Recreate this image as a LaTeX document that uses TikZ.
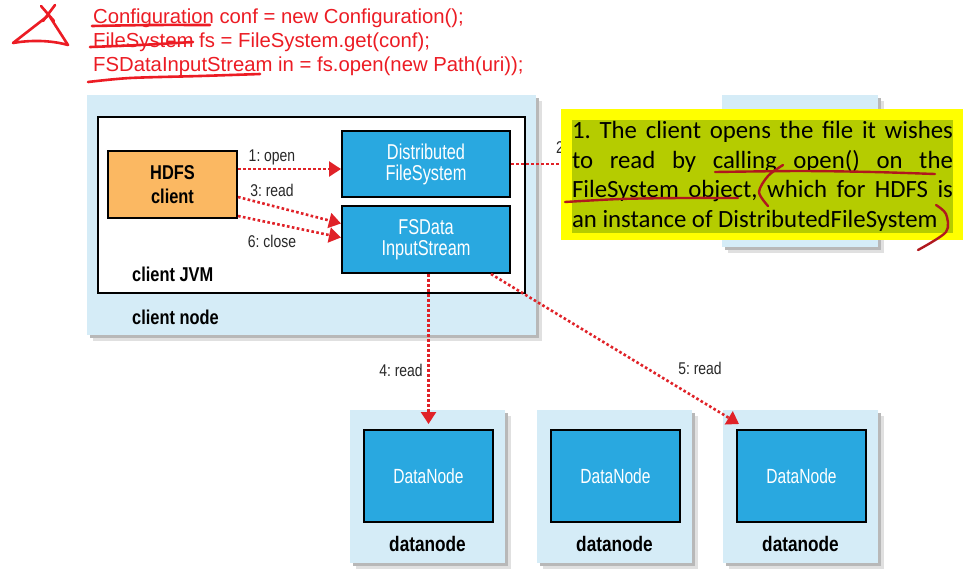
\documentclass[tikz,border=0pt]{standalone}
\usepackage{fontspec}
\setmainfont{Liberation Sans}
\newfontfamily\diag[FakeStretch=0.82]{Liberation Sans}
\newfontfamily\diagbox[FakeStretch=0.76]{Liberation Sans}
\newfontfamily\cali{Carlito}
\usetikzlibrary{arrows.meta,backgrounds}
\definecolor{cred}{RGB}{236,28,36}
\definecolor{pen}{RGB}{176,24,30}
\definecolor{lblue}{RGB}{213,236,247}
\definecolor{mblue}{RGB}{41,168,224}
\definecolor{orng}{RGB}{251,184,98}
\definecolor{hlyel}{RGB}{255,255,0}
\definecolor{hlgrn}{RGB}{181,204,0}
\definecolor{arr}{RGB}{224,34,40}
\definecolor{lbltxt}{RGB}{40,40,40}
\frenchspacing
\begin{document}
\begin{tikzpicture}[x=1pt,y=-1pt,
  lbox/.style={fill=lblue, inner sep=0pt},
  bbox/.style={fill=mblue, draw=black, line width=2pt, inner sep=0pt, text=white, align=center,
    font=\diagbox\fontsize{21.5}{21}\selectfont},
  boldlbl/.style={inner sep=0pt, text=black, font=\diag\bfseries\fontsize{20}{24}\selectfont, align=center},
  lbl/.style={inner sep=0pt, text=lbltxt, font=\diag\fontsize{17}{20}\selectfont},
  flow/.style={draw=arr, line width=2.6pt, dash pattern=on 2.6pt off 2.4pt,
    -{Triangle[length=12pt,width=15pt]}},
  flowline/.style={draw=arr, line width=2.6pt, dash pattern=on 2.6pt off 2.4pt},
  codetxt/.style={inner sep=0pt, text=cred, font=\fontsize{20.3}{22}\selectfont},
  redpen/.style={draw=cred, line width=2.6pt, line cap=round, line join=round},
  darkpen/.style={draw=pen, line width=2.4pt, line cap=round, line join=round},
  shade1/.style={fill=black!12},
  shade2/.style={fill=black!28}
]
\useasboundingbox (0,0) rectangle (965,574);

% ---------- code lines at the top ----------
\node[codetxt, anchor=base west] (code1) at (93,23) {Configuration conf = new Configuration();};
\node[codetxt, anchor=base west] (code2) at (93,47) {FileSystem fs = FileSystem.get(conf);};
\node[codetxt, anchor=base west] (code3) at (93,71) {FSDataInputStream in = fs.open(new Path(uri));};

% hand marks at top left
\draw[redpen] (49,15) -- (13,43) .. controls (30,40) and (50,40) .. (68,45) -- (50,17);
\draw[redpen] (41,6) -- (54,21);
\draw[redpen] (55,5) -- (43,21);
\draw[redpen] plot[smooth] coordinates {(92,26) (150,25) (210,25)};
\draw[redpen] plot[smooth] coordinates {(90,47) (140,45) (193,42)};
\draw[redpen] plot[smooth] coordinates {(88,82) (130,78) (200,76) (260,74)};

% ---------- client node ----------
\node[lbox, minimum width=449pt, minimum height=240pt] (cnode) at (311.5,215) {};
\node[fill=white, draw=black, line width=2pt, inner sep=0pt, minimum width=427pt, minimum height=176pt] (jvm) at (311.5,205) {};
\node[fill=orng, draw=black, line width=2pt, minimum width=129pt, minimum height=67pt,
  inner sep=0pt, align=center, font=\diag\bfseries\fontsize{20}{24}\selectfont] (hdfs) at (172.5,184.5) {HDFS\\client};
\node[bbox, minimum width=168pt, minimum height=66pt] (dfs) at (426,164) {Distributed\\FileSystem};
\node[bbox, minimum width=168pt, minimum height=67pt] (fsin) at (426,239.5) {FSData\\InputStream};
\node[boldlbl, anchor=west] (jvmlbl) at (132,274) {client JVM};
\node[boldlbl, anchor=west] (cnlbl) at (132,317) {client node};

% ---------- namenode (hidden behind note) ----------
\node[lbox, minimum width=156pt, minimum height=152pt] (nnode) at (800,171) {};

% ---------- datanodes ----------
\foreach \i/\x in {1/427.5, 2/614.5, 3/800.5}{
  \node[lbox, minimum width=155pt, minimum height=153pt] (dn\i) at (\x,486.5) {};
  \node[bbox, minimum width=129pt, minimum height=92pt, font=\diagbox\fontsize{20.5}{21}\selectfont] (in\i) at (\x+1,476) {DataNode};
  \node[boldlbl, font=\diag\bfseries\fontsize{21}{24}\selectfont] (dl\i) at (\x,544) {datanode};
}

% white page and shadows
\begin{pgfonlayer}{background}
\fill[white] (0,0) rectangle (965,574);
\foreach \n in {cnode,nnode,dn1,dn2,dn3}{
  \fill[shade1] ([shift={(6pt,-6pt)}]\n.north west) rectangle ([shift={(6pt,-6pt)}]\n.south east);
  \fill[shade2] ([shift={(3pt,-3pt)}]\n.north west) rectangle ([shift={(3pt,-3pt)}]\n.south east);
}
\end{pgfonlayer}

% ---------- connectors ----------
\draw[flow] ([yshift=15.5pt]hdfs.east) -- ([yshift=-5pt]dfs.west);
\draw[flow] ([yshift=-12.5pt]hdfs.east) -- ([yshift=16pt]fsin.west);
\draw[flow] ([yshift=-31.5pt]hdfs.east) -- ([yshift=2pt]fsin.west);
\draw[flow, shorten >=5pt] (in1.north |- fsin.south) -- (in1.north);
\draw[flow] ([xshift=-20pt]fsin.south east) -- ([shift={(3pt,5pt)}]in3.north west);
\coordinate (c2) at (566,164);
\draw[flowline] (dfs.east) -- (c2);

\node[lbl] (l1) at (272,157) {1: open};
\node[lbl] (l3) at (272,190) {3: read};
\node[lbl] (l6) at (272,241) {6: close};
\node[lbl] (l4) at (401,370) {4: read};
\node[lbl] (l5) at (700,368) {5: read};
\node[lbl, anchor=base west] (l2) at (556,153) {2:};

% ---------- highlighted note ----------
\node[fill=hlyel, minimum width=402pt, minimum height=131pt, inner sep=0pt] (yel) at (762,174.5) {};
\node[fill=hlgrn, text width=381pt, minimum height=113pt, inner sep=0pt, align=justify,
  font=\cali\fontsize{24.8}{29.7}\selectfont] (note) at (762.5,176.5)
  {1. The client opens the file it wishes\linebreak to read by calling open() on the\linebreak FileSystem object, which for HDFS is\linebreak an instance of DistributedFileSystem};

\draw[darkpen] plot[smooth] coordinates {(715,172) (800,171) (873,172) (935,174)};
\draw[darkpen] plot[smooth] coordinates {(565,202) (620,199) (680,198) (738,198)};
\draw[darkpen] plot[smooth] coordinates {(783,165) (768,176) (759,192) (768,206)};
\draw[darkpen] plot[smooth] coordinates {(936,205) (946,214) (946,232) (918,250)};
\end{tikzpicture}
\end{document}
